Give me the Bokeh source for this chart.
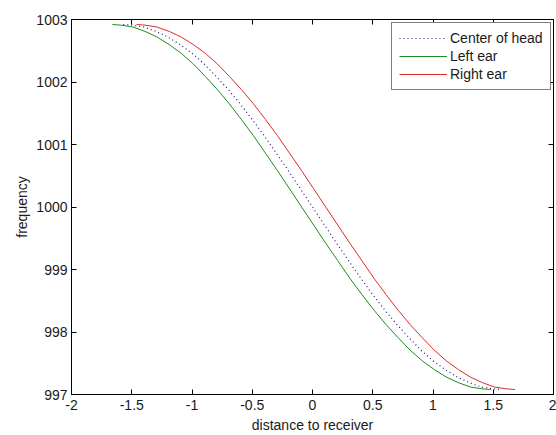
from bokeh.plotting import figure
from bokeh.models import LinearAxis, FixedTicker, Legend, LegendItem, Range1d
from bokeh.embed import file_html
from bokeh.resources import INLINE

# ---- data ----
freq = [1002.92, 1002.91, 1002.88, 1002.81, 1002.72, 1002.60, 1002.46, 1002.29,
        1002.09, 1001.88, 1001.65, 1001.40, 1001.14, 1000.86, 1000.58, 1000.29,
        1000.00, 999.71, 999.42, 999.14, 998.86, 998.60, 998.35, 998.12,
        997.91, 997.71, 997.54, 997.40, 997.28, 997.19, 997.12, 997.09, 997.08]

x_center = [-1.57, -1.50, -1.40, -1.30, -1.20, -1.10, -1.00, -0.90, -0.80, -0.70,
            -0.60, -0.50, -0.40, -0.30, -0.20, -0.10, 0.00, 0.10, 0.20, 0.30,
            0.40, 0.50, 0.60, 0.70, 0.80, 0.90, 1.00, 1.10, 1.20, 1.30, 1.40,
            1.50, 1.57]
x_left = [-1.66, -1.59, -1.49, -1.39, -1.29, -1.19, -1.09, -0.99, -0.89, -0.79,
          -0.69, -0.59, -0.49, -0.39, -0.29, -0.19, -0.09, 0.01, 0.11, 0.21,
          0.31, 0.41, 0.51, 0.61, 0.71, 0.81, 0.91, 1.01, 1.11, 1.21, 1.31,
          1.41, 1.48]
x_right = [-1.46, -1.39, -1.29, -1.19, -1.09, -0.99, -0.89, -0.79, -0.69, -0.59,
           -0.49, -0.39, -0.29, -0.19, -0.09, 0.01, 0.11, 0.21, 0.31, 0.41,
           0.51, 0.61, 0.71, 0.81, 0.91, 1.01, 1.11, 1.21, 1.31, 1.41, 1.51,
           1.61, 1.68]

series_names = ["Center of head", "Left ear", "Right ear"]

x_ticks = [-2, -1.5, -1, -0.5, 0, 0.5, 1, 1.5, 2]
x_tick_labels = ["-2", "-1.5", "-1", "-0.5", "0", "0.5", "1", "1.5", "2"]
y_ticks = [997, 998, 999, 1000, 1001, 1002, 1003]
y_tick_labels = ["997", "998", "999", "1000", "1001", "1002", "1003"]

FONT = "Liberation Sans"
FS = "14px"

p = figure(width=556, height=435, output_backend="svg", toolbar_location=None,
           x_range=Range1d(-2, 2), y_range=Range1d(997, 1003),
           min_border_left=71, min_border_right=3, min_border_top=19,
           min_border_bottom=38, x_axis_label="distance to receiver",
           y_axis_label="frequency")
p.grid.visible = False
p.outline_line_color = "black"
p.outline_line_width = 1
p.background_fill_color = "white"
p.border_fill_color = "white"

def style_axis(ax, ticks, labels, show_labels=True):
    ax.ticker = FixedTicker(ticks=ticks)
    ax.major_tick_in = 5
    ax.major_tick_out = 0
    ax.minor_tick_in = 0
    ax.minor_tick_out = 0
    ax.axis_line_color = "black"
    ax.major_tick_line_color = "black"
    ax.major_label_text_font = FONT
    if show_labels:
        ax.major_label_overrides = {t: l for t, l in zip(ticks, labels)}
        ax.major_label_text_color = "#1a1a1a"
        ax.major_label_text_font_size = FS
        ax.major_label_standoff = 4
    else:
        ax.major_label_text_color = None
        ax.major_label_text_font_size = "1px"
        ax.major_label_standoff = 0

style_axis(p.xaxis[0], x_ticks, x_tick_labels)
style_axis(p.yaxis[0], y_ticks, y_tick_labels)
p.xaxis[0].major_label_standoff = 5
for ax in (p.xaxis[0], p.yaxis[0]):
    ax.axis_label_text_font = FONT
    ax.axis_label_text_font_size = FS
    ax.axis_label_text_font_style = "normal"
    ax.axis_label_text_color = "#1a1a1a"
p.xaxis[0].axis_label_standoff = 4
p.yaxis[0].axis_label_standoff = 3

top_ax = LinearAxis()
style_axis(top_ax, x_ticks, x_tick_labels, show_labels=False)
p.add_layout(top_ax, "above")
right_ax = LinearAxis()
style_axis(right_ax, y_ticks, y_tick_labels, show_labels=False)
p.add_layout(right_ax, "right")

r_center = p.line(x_center, freq, line_color="#1c1c7a", line_width=1.2,
                  line_dash="1 3")
r_left = p.line(x_left, freq, line_color="#1e8c1e", line_width=1)
r_right = p.line(x_right, freq, line_color="#e02a2a", line_width=1)

legend = Legend(items=[LegendItem(label=series_names[0], renderers=[r_center]),
                       LegendItem(label=series_names[1], renderers=[r_left]),
                       LegendItem(label=series_names[2], renderers=[r_right])],
                location=(320, 304))
legend.label_text_font = FONT
legend.label_text_font_size = FS
legend.label_text_color = "#1a1a1a"
legend.border_line_color = "black"
legend.border_line_width = 1
legend.background_fill_color = "white"
legend.background_fill_alpha = 1
legend.padding = 7
legend.spacing = 2
legend.margin = 0
legend.glyph_width = 48
legend.glyph_height = 16
legend.label_height = 16
legend.label_standoff = 3
p.add_layout(legend, "center")

open("out.html", "w").write(file_html(p, INLINE))
